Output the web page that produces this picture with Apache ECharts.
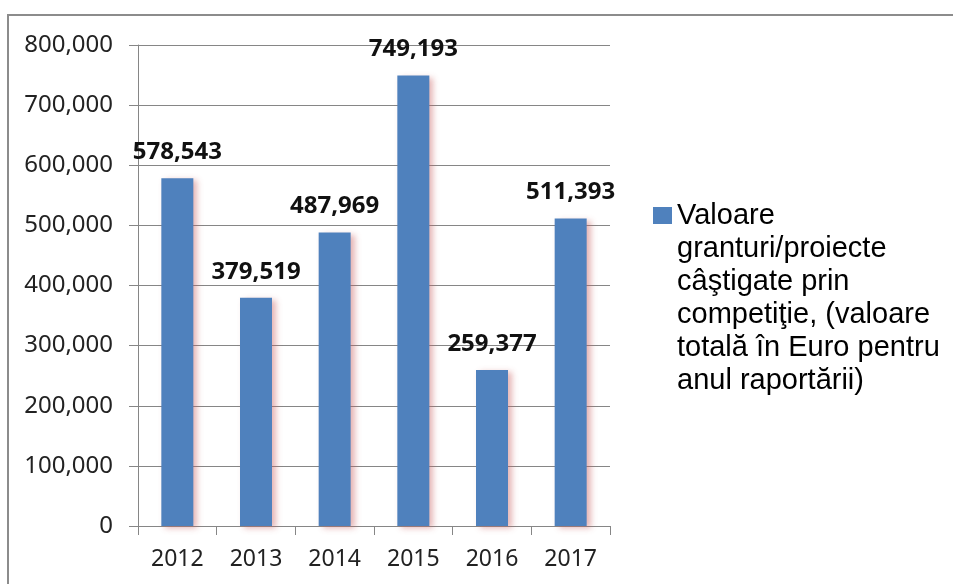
<!DOCTYPE html>
<html>
<head>
<meta charset="utf-8">
<script src="https://cdn.jsdelivr.net/npm/echarts@6/dist/echarts.min.js"></script>
<style>
html,body{margin:0;padding:0;background:#fff;}
#chart{width:953px;height:584px;}
</style>
</head>
<body>
<div id="chart"></div>
<script>
const categories = ['2012', '2013', '2014', '2015', '2016', '2017'];
const values = [578543, 379519, 487969, 749193, 259377, 511393];
const seriesName = 'Valoare\ngranturi/proiecte\ncâştigate prin\ncompetiţie, (valoare\ntotală în Euro pentru\nanul raportării)';
const yTicks = { min: 0, max: 800000, interval: 100000 };

function fmt(v) {
  return String(v).replace(/\B(?=(\d{3})+(?!\d))/g, ',');
}

const chart = echarts.init(document.getElementById('chart'));
chart.setOption({
  animation: false,
  backgroundColor: '#fff',
  graphic: [{
    type: 'rect',
    shape: { x: 8, y: 15, width: 980, height: 620 },
    style: { fill: 'none', stroke: '#8c8c8c', lineWidth: 2 },
    z: -1
  }],
  grid: { left: 138, right: 343, top: 45, bottom: 58, containLabel: false },
  legend: {
    show: true,
    left: 653,
    top: 34,
    padding: 0,
    itemWidth: 19,
    itemHeight: 17,
    itemGap: 0,
    icon: 'rect',
    orient: 'vertical',
    formatter: name => '\n\n\n\n\n' + name,
    textStyle: {
      fontFamily: 'Liberation Sans',
      fontSize: 29,
      lineHeight: 33,
      color: '#000'
    },
    itemStyle: { shadowBlur: 0, shadowOffsetX: 0, shadowOffsetY: 0 }
  },
  xAxis: {
    type: 'category',
    data: categories,
    axisLine: { lineStyle: { color: '#868686', width: 1 } },
    axisTick: { show: true, length: 9, lineStyle: { color: '#868686' } },
    axisLabel: { margin: 22, fontFamily: 'Noto Sans', fontSize: 23, color: '#222' }
  },
  yAxis: {
    type: 'value',
    min: yTicks.min,
    max: yTicks.max,
    interval: yTicks.interval,
    axisLine: { show: true, lineStyle: { color: '#868686', width: 1 } },
    axisTick: { show: true, length: 9, lineStyle: { color: '#868686' } },
    splitLine: { show: true, lineStyle: { color: '#868686', width: 1 } },
    axisLabel: { margin: 25, fontFamily: 'Noto Sans', fontSize: 24, color: '#222', formatter: fmt }
  },
  series: [{
    name: seriesName,
    type: 'bar',
    data: values,
    barWidth: 32,
    itemStyle: {
      color: '#4F81BD',
      shadowColor: 'rgba(200,90,90,0.45)',
      shadowBlur: 6,
      shadowOffsetX: 4,
      shadowOffsetY: 2
    },
    label: {
      show: true,
      position: 'top',
      distance: 14,
      fontFamily: 'Noto Sans',
      fontWeight: 'bold',
      fontSize: 24,
      color: '#111',
      formatter: p => fmt(p.value)
    }
  }]
});
</script>
</body>
</html>
